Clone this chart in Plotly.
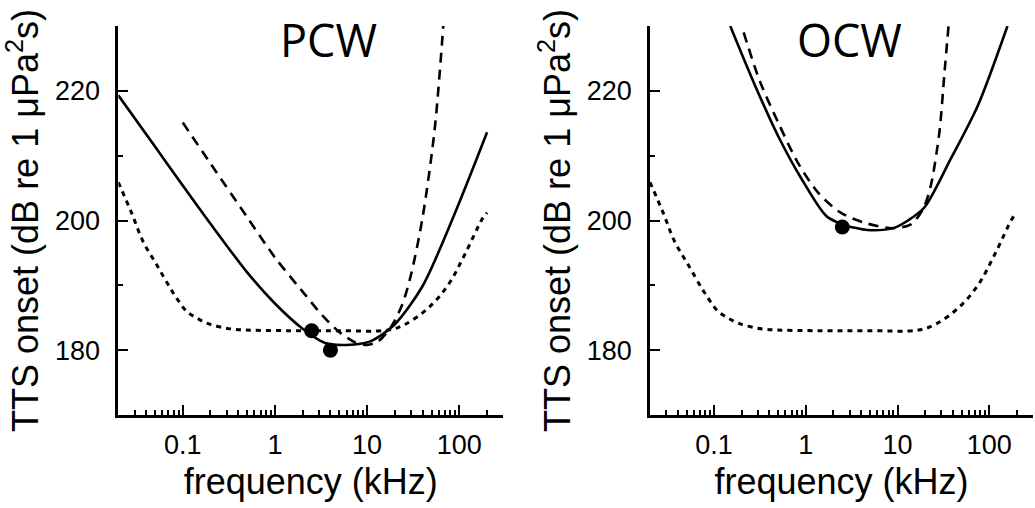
import plotly.graph_objects as go
import math

# ---------------- data ----------------
# PCW panel
pcw_solid_f = [0.02, 0.05, 0.1, 0.2, 0.5, 1, 2, 3.5, 6, 11, 20, 40, 90, 200]
pcw_solid_v = [219.3, 211.4, 205.4, 199.5, 192.0, 187.2, 183.3, 181.1, 180.8, 181.4, 184.0, 189.9, 201.2, 213.6]

pcw_dash_f = [0.1, 0.2, 0.5, 1, 2.2, 3.2, 4.9, 7.4, 10, 13, 18, 24, 30, 40, 54, 67]
pcw_dash_v = [215.1, 208.8, 200.5, 194.3, 188.3, 185.5, 182.9, 181.2, 180.8, 181.3, 183.5, 187.0, 191.7, 200.5, 214.0, 230.0]

# exposure function shared by both panels (dotted)
dot_f = [0.02, 0.028, 0.037, 0.052, 0.073, 0.09, 0.11, 0.14, 0.18, 0.25, 0.38, 1.5, 5, 17, 26, 46, 76, 115, 180, 200]
dot_v = [205.9, 201.1, 196.8, 193.2, 189.6, 187.6, 186.0, 185.0, 184.2, 183.6, 183.2, 183.0, 183.0, 183.1, 184.0, 186.5, 190.1, 194.8, 200.4, 201.2]

pcw_pts_f = [2.5, 4]
pcw_pts_v = [183, 180]

# OCW panel
ocw_solid_f = [0.15, 0.28, 0.5, 0.9, 1.67, 2.5, 3.1, 5.2, 9.3, 13, 19.6, 38, 75, 158]
ocw_solid_v = [230.0, 220.8, 213.0, 206.4, 200.7, 199.4, 199.0, 198.5, 198.9, 200.0, 202.0, 209.5, 217.7, 230.0]

ocw_dash_f = [0.21, 0.315, 0.5, 0.82, 1.36, 2.4, 4.5, 8.8, 14, 19, 23, 28.6, 32.5, 36]
ocw_dash_v = [229.0, 221.5, 215.1, 208.9, 204.3, 201.2, 199.6, 198.8, 199.4, 201.8, 205.3, 213.6, 222.8, 230.0]

ocw_pts_f = [2.5]
ocw_pts_v = [199]

panel_titles = ["PCW", "OCW"]
x_ticks = [0.1, 1, 10, 100]
x_ticktext = ["0.1", "1", "10", "100"]
y_ticks = [180, 200, 220]
y_minor = [170, 190, 210, 230]
x_title = "frequency (kHz)"
y_title = "TTS onset (dB re 1 μPa<sup>2</sup>s)"

# ---------------- figure ----------------
W, H = 1035, 508
fig = go.Figure()

BLACK = "black"
solid = dict(color=BLACK, width=2.6)
dashed = dict(color=BLACK, width=2.6, dash="10px,7px")
dotted = dict(color=BLACK, width=3, dash="5px,5px")

panels = [
    ("x", "y", pcw_solid_f, pcw_solid_v, pcw_dash_f, pcw_dash_v, pcw_pts_f, pcw_pts_v),
    ("x2", "y2", ocw_solid_f, ocw_solid_v, ocw_dash_f, ocw_dash_v, ocw_pts_f, ocw_pts_v),
]
for xa, ya, sf, sv, df, dv, pf, pv in panels:
    fig.add_trace(go.Scatter(x=dot_f, y=dot_v, mode="lines", line=dict(dotted, shape="spline", smoothing=1.0),
                             xaxis=xa, yaxis=ya, showlegend=False, hoverinfo="skip"))
    fig.add_trace(go.Scatter(x=df, y=dv, mode="lines", line=dict(dashed, shape="spline", smoothing=0.8),
                             xaxis=xa, yaxis=ya, showlegend=False, hoverinfo="skip"))
    fig.add_trace(go.Scatter(x=sf, y=sv, mode="lines", line=dict(solid, shape="spline", smoothing=0.8),
                             xaxis=xa, yaxis=ya, showlegend=False, hoverinfo="skip"))
    fig.add_trace(go.Scatter(x=pf, y=pv, mode="markers", marker=dict(color=BLACK, size=15),
                             xaxis=xa, yaxis=ya, showlegend=False, hoverinfo="skip"))

x_minor = [m * 10 ** e for e in range(-2, 3) for m in range(2, 10)] + [300]
x_minor = [v for v in x_minor if 0.02 <= v <= 300]

tick_font = dict(family="Liberation Sans, Arial", size=27, color=BLACK)
title_font = dict(family="Liberation Sans, Arial", size=36, color=BLACK)

def xaxis_cfg(domain, anchor):
    return dict(
        type="log", domain=domain, anchor=anchor, automargin=False,
        range=[math.log10(0.02), math.log10(300)],
        showline=True, linecolor=BLACK, linewidth=2.5,
        showgrid=False, zeroline=False,
        ticks="inside", ticklen=10, tickwidth=2, tickcolor=BLACK,
        tickmode="array", tickvals=x_ticks, ticktext=x_ticktext,
        tickfont=tick_font, ticklabelstandoff=4,
        minor=dict(ticks="inside", ticklen=5, tickwidth=2, tickcolor=BLACK,
                   tickmode="array", tickvals=x_minor, showgrid=False),
        title=dict(text=x_title, font=title_font, standoff=10),
    )

def yaxis_cfg(anchor):
    return dict(
        domain=[(H - 415) / H, (H - 26) / H], anchor=anchor, automargin=False,
        range=[170, 230],
        showline=True, linecolor=BLACK, linewidth=2.5,
        showgrid=False, zeroline=False,
        ticks="inside", ticklen=10, tickwidth=2, tickcolor=BLACK,
        tickmode="array", tickvals=y_ticks,
        tickfont=tick_font, ticklabelstandoff=10,
        minor=dict(ticks="inside", ticklen=5, tickwidth=2, tickcolor=BLACK,
                   tickmode="array", tickvals=y_minor, showgrid=False),
        title=dict(text=y_title, font=title_font, standoff=6),
    )

fig.update_layout(
    width=W, height=H,
    margin=dict(l=0, r=0, t=0, b=0),
    paper_bgcolor="white", plot_bgcolor="white",
    xaxis=xaxis_cfg([118.3 / W, 503.3 / W], "y"),
    yaxis=yaxis_cfg("x"),
    xaxis2=xaxis_cfg([650 / W, 1033 / W], "y2"),
    yaxis2=yaxis_cfg("x2"),
    showlegend=False,
)

title_font_big = dict(family="Open Sans", size=45, color=BLACK)
for txt, cx in zip(panel_titles, [328.5, 849]):
    fig.add_annotation(text=txt, x=cx / W, y=(H - 40) / H, xref="paper", yref="paper",
                       xanchor="center", yanchor="middle", showarrow=False, font=title_font_big)

fig.write_html("out.html",
               config={"displayModeBar": False},
               post_script="document.body.style.margin='0px';document.body.style.overflow='hidden';")
